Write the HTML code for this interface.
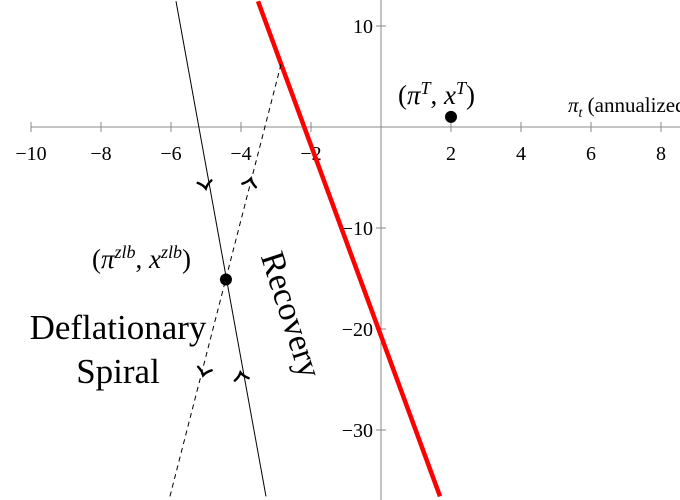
<!DOCTYPE html>
<html><head><meta charset="utf-8"><style>
html,body{margin:0;padding:0;background:#fff;}
svg{display:block;font-family:"Liberation Serif",serif;}
</style></head><body>
<svg id="c" width="680" height="500"></svg>
<script>
const xTicks=[-10,-8,-6,-4,-2,2,4,6,8];
const yTicks=[10,-10,-20,-30];
const recoveryLine=[[-3.514,12.45],[1.686,-36.57]];
const stableLine=[[-5.857,12.45],[-3.286,-36.57]];
const unstableLine=[[-6.03,-36.57],[-2.83,6.57]];
const targetPoint=[2,1];
const zlbPoint=[-4.43,-15.1];
const stableArrows=[[-5.02,-5.8,1],[-4.0,-24.6,-1]];
const unstableArrows=[[-3.74,-5.4,1],[-5.06,-24.3,-1]];
const NS="http://www.w3.org/2000/svg";
const svg=document.getElementById('c');
const X=v=>381+35*v, Y=v=>127-10.1*v;
function el(t,a,p){const e=document.createElementNS(NS,t);for(const k in a)e.setAttribute(k,a[k]);(p||svg).appendChild(e);return e;}
let e;
e=el('line',{x1:31,y1:127,x2:680,y2:127,stroke:'#888','stroke-width':1});


e=el('line',{x1:381,y1:0,x2:381,y2:500,stroke:'#888','stroke-width':1});


xTicks.forEach(t=>{
 e=el('line',{x1:X(t),y1:122,x2:X(t),y2:132,stroke:'#888'});
 
 
 e=el('text',{x:X(t),y:160,'text-anchor':'middle','font-size':20});
 e.textContent=(t<0?'\u2212'+(-t):t);
 
 
});
yTicks.forEach(t=>{
 e=el('line',{x1:376,y1:Y(t),x2:386,y2:Y(t),stroke:'#888'});
 
 
 e=el('text',{x:373,y:Y(t)+7,'text-anchor':'end','font-size':20});
 e.textContent=(t<0?'\u2212'+(-t):t);
 
 
});
function line(p,a){return el('line',Object.assign({x1:X(p[0][0]),y1:Y(p[0][1]),x2:X(p[1][0]),y2:Y(p[1][1])},a));}
e=line(recoveryLine,{stroke:'#f00','stroke-width':4.5});


e=line(stableLine,{stroke:'#000','stroke-width':1});


e=line(unstableLine,{stroke:'#000','stroke-width':1,'stroke-dasharray':'5,4'});


function arrow(a,lineP){
 const dx=X(lineP[1][0])-X(lineP[0][0]),dy=Y(lineP[1][1])-Y(lineP[0][1]);
 let ang=Math.atan2(dy,dx)*180/Math.PI; if(a[2]<0)ang+=180;
 return el('path',{d:'M-4,-7 Q-1,-2 3,0 Q-1,2 -4,7',fill:'none',stroke:'#000','stroke-width':2.4,'stroke-linecap':'round',transform:`translate(${X(a[0])},${Y(a[1])}) rotate(${ang})`});
}
stableArrows.forEach(a=>{e=arrow(a,stableLine);
 
 });
unstableArrows.forEach(a=>{e=arrow(a,unstableLine);
 
 });
e=el('circle',{cx:X(targetPoint[0]),cy:Y(targetPoint[1]),r:6,fill:'#000'});


e=el('circle',{cx:X(zlbPoint[0]),cy:Y(zlbPoint[1]),r:6,fill:'#000'});


</script>
<div style="position:absolute;left:0;top:0;width:680px;height:500px;font-family:'Liberation Serif',serif;pointer-events:none">
<div style="position:absolute;left:398px;top:78px;font-size:27px;white-space:nowrap">(<i>π</i><sup style="font-size:18px"><i>T</i></sup>, <i>x</i><sup style="font-size:18px"><i>T</i></sup>)</div>
<div style="position:absolute;left:568px;top:93px;font-size:21px;white-space:nowrap"><i>π</i><sub style="font-size:14px"><i>t</i></sub> (annualized</div>
<div style="position:absolute;left:92px;top:242px;font-size:27px;white-space:nowrap">(<i>π</i><sup style="font-size:18px"><i>zlb</i></sup>, <i>x</i><sup style="font-size:18px"><i>zlb</i></sup>)</div>
<div style="position:absolute;left:18px;top:306px;width:200px;text-align:center;font-size:35px;line-height:44px">Deflationary<br>Spiral</div>
<div style="position:absolute;left:225px;top:296px;font-size:34px;transform:rotate(72deg);transform-origin:center;white-space:nowrap">Recovery</div>
</div>
</body></html>
